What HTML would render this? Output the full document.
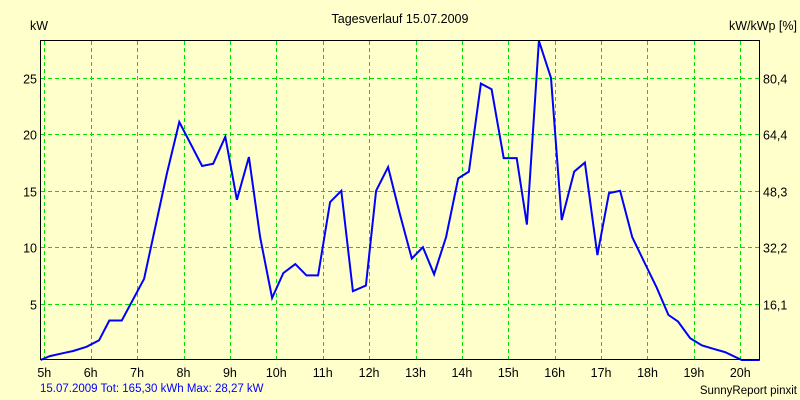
<!DOCTYPE html>
<html><head><meta charset="utf-8"><style>
body{margin:0;background:#ffffcc;}
svg{display:block;font-family:"Liberation Sans",sans-serif;}
</style></head><body>
<svg id="chart" width="800" height="400" viewBox="0 0 800 400">
<rect x="0" y="0" width="800" height="400" fill="#ffffcc"/>
<text x="400" y="23" font-size="12.5" text-anchor="middle" fill="#000">Tagesverlauf 15.07.2009</text>
<text x="30" y="30" font-size="12.5" fill="#000">kW</text>
<text x="797" y="30" font-size="12.5" text-anchor="end" fill="#000">kW/kWp [%]</text>
<g id="grid"></g>
<g id="labels"></g>
<path id="line" fill="none" stroke="#0000ff" stroke-width="2" stroke-linejoin="miter"/>
<rect x="40.5" y="40.5" width="719" height="319" fill="none" stroke="#000" stroke-width="1"/>
<text x="40" y="392" font-size="11.5" fill="#0000ff">15.07.2009 Tot: 165,30 kWh Max: 28,27 kW</text>
<text x="797" y="394" font-size="11.5" text-anchor="end" fill="#000">SunnyReport pinxit</text>
</svg>
<script>
const hourTicks=[5,6,7,8,9,10,11,12,13,14,15,16,17,18,19,20];
const kwTicks=[5,10,15,20,25];
const pctLabels=["16,1","32,2","48,3","64,4","80,4"];
const times=[4.92,5.12,5.45,5.62,5.91,6.18,6.4,6.67,7.15,7.64,7.91,8.4,8.64,8.9,9.15,9.41,9.65,9.91,10.15,10.41,10.65,10.9,11.16,11.4,11.65,11.93,12.15,12.41,12.66,12.92,13.16,13.4,13.66,13.92,14.15,14.41,14.64,14.9,15.18,15.4,15.66,15.92,16.15,16.42,16.65,16.92,17.17,17.41,17.67,17.94,18.2,18.45,18.66,18.92,19.17,19.41,19.67,20.03,20.42];
const power=[0,0.35,0.65,0.8,1.17,1.75,3.5,3.5,7.2,16.5,21.1,17.2,17.4,19.8,14.2,18.0,10.9,5.5,7.7,8.5,7.5,7.5,14.0,15.0,6.1,6.6,15.0,17.1,13.0,9.0,10.0,7.6,10.9,16.1,16.7,24.5,24.0,17.9,17.9,12.0,28.3,25.0,12.4,16.7,17.5,9.3,14.8,15.0,10.9,8.6,6.4,4.0,3.4,1.93,1.3,1.0,0.7,0,0];
const xs=t=>44.3+(t-5)*46.4;
const ys=v=>360-v*11.28;
const NS="http://www.w3.org/2000/svg";
const grid=document.getElementById('grid'),labels=document.getElementById('labels');
function mk(tag,attrs,parent){const e=document.createElementNS(NS,tag);for(const k in attrs)e.setAttribute(k,attrs[k]);parent.appendChild(e);return e;}
hourTicks.forEach(h=>{
  const x=Math.round(xs(h))+0.5;
  const l=mk('line',{x1:x,x2:x,y1:41,y2:359,stroke:'#00e000','stroke-dasharray':'4,3','stroke-width':1},grid);
  
  
  const t=mk('text',{x:xs(h),y:377,'font-size':12.5,'text-anchor':'middle',fill:'#000'},labels);
  t.textContent=h+'h';
  
  
});
kwTicks.forEach((v,i)=>{
  const y=Math.round(ys(v))+0.5;
  const l=mk('line',{x1:41,x2:759,y1:y,y2:y,stroke:'#00e000','stroke-dasharray':'4,3','stroke-width':1},grid);
  
  
  const t=mk('text',{x:37,y:y+5,'font-size':12.5,'text-anchor':'end',fill:'#000'},labels);
  t.textContent=v;
  
  
  const t2=mk('text',{x:763,y:y+5,'font-size':12.5,fill:'#000'},labels);
  t2.textContent=pctLabels[i];
  
  
});
document.getElementById('line').setAttribute('d',times.map((t,i)=>(i?'L':'M')+xs(t).toFixed(1)+','+ys(power[i]).toFixed(1)).join(' '));
</script>
</body></html>
